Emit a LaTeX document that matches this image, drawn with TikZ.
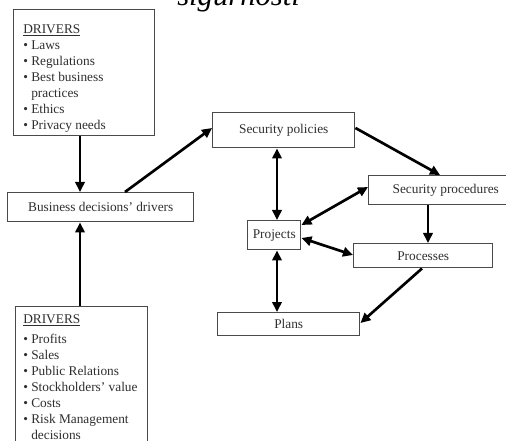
\documentclass[tikz,border=0pt]{standalone}
\usepackage{fontspec}
\setmainfont{Liberation Serif}
\usetikzlibrary{arrows.meta,calc}
\definecolor{txt}{HTML}{2E2E2E}
\definecolor{frame}{HTML}{4A4A4A}
\newcommand{\drvhead}{\raisebox{0pt}[\height][0pt]{\underline{DRIVERS}}}
\begin{document}
\begin{tikzpicture}[x=0.75pt,y=-0.75pt,
  box/.style={draw=frame,line width=1.1pt,rectangle,inner sep=0pt,anchor=north west,
    text=txt,font=\fontsize{10}{12}\selectfont},
  listtext/.style={anchor=north west,inner sep=0pt,align=left,text=txt,
    font=\fontsize{10}{12}\selectfont},
  arr/.style={line width=2pt,-{Triangle[length=7.5pt,width=7pt]}},
  darr/.style={line width=2pt,{Triangle[length=7.5pt,width=7pt]}-{Triangle[length=7.5pt,width=7pt]}}]
\useasboundingbox (0,0) rectangle (506,441);
% title remnant (cut off at the top edge, as in the reference)
\node[anchor=base west,inner sep=0pt,font=\fontsize{23}{26}\selectfont\itshape] (title) at (177,6) {sigurnosti};
% boxes
\node[box,minimum width=105.75pt,minimum height=94.5pt] (d1) at (13,9) {};
\node[listtext] (d1t) at (23,24) {\drvhead\\
• Laws\\ • Regulations\\ • Best business\\ \phantom{• }practices\\ • Ethics\\ • Privacy needs};
\node[box,minimum width=99pt,minimum height=112.5pt] (d2) at (15,306) {};
\node[listtext] (d2t) at (23,314) {\drvhead\\[3pt]
• Profits\\ • Sales\\ • Public Relations\\ • Stockholders' value\\ • Costs\\ • Risk Management\\ \phantom{• }decisions};
\node[box,minimum width=139.5pt,minimum height=21.75pt] (biz) at (7,192) {Business decisions' drivers};
\node[box,minimum width=106.5pt,minimum height=26.25pt] (sp) at (212,112) {Security policies};
\node[box,minimum width=115.5pt,minimum height=21.75pt] (spr) at (368,175) {Security procedures};
\node[box,minimum width=39.75pt,minimum height=21.75pt] (proj) at (247,220) {Projects};
\node[box,minimum width=104.25pt,minimum height=18pt] (proc) at (353,243) {Processes};
\node[box,minimum width=106.5pt,minimum height=17.25pt] (plans) at (217,312) {Plans};
% connectors
\draw[arr] ($(d1.south west)+(67,0)$) -- ($(biz.north west)+(73,0)$);
\draw[arr] ($(d2.north west)+(65,0)$) -- ($(biz.south west)+(73,0)$);
\draw[arr] ($(biz.north west)+(118,0)$) -- ($(sp.north west)+(0,16)$);
\draw[arr] ($(sp.north east)+(0,16)$) -- ($(spr.north west)+(72,0)$);
\draw[darr] ($(sp.south west)+(65,0)$) -- ($(proj.north west)+(30,0)$);
\draw[darr] ($(spr.north west)+(0,12)$) -- ($(proj.north east)+(0,5)$);
\draw[darr] ($(proj.north east)+(0,18)$) -- ($(proc.north west)+(0,12)$);
\draw[arr] ($(spr.south west)+(60,0)$) -- ($(proc.north west)+(75,0)$);
\draw[darr] ($(proj.south west)+(30,0)$) -- ($(plans.north west)+(60,0)$);
\draw[arr] ($(proc.south west)+(69,0)$) -- ($(plans.north east)+(0,11)$);
\end{tikzpicture}
\end{document}
